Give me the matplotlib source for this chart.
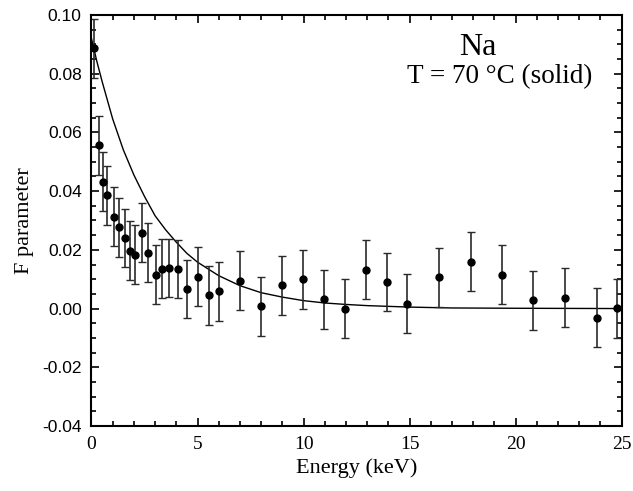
import numpy as np
import matplotlib
matplotlib.use('Agg')
from matplotlib import pyplot as plt
from matplotlib import ticker

plt.rcParams['axes.unicode_minus'] = False

# measured F parameter vs photon energy
energy = [0.12, 0.36, 0.56, 0.75, 1.05, 1.30, 1.57, 1.82, 2.06, 2.38, 2.66,
          3.06, 3.34, 3.67, 4.07, 4.52, 5.02, 5.53, 6.03, 7.02, 8.01,
          8.97, 9.99, 10.97, 11.96, 12.93, 13.92, 14.90, 16.40, 17.89,
          19.35, 20.84, 22.32, 23.83, 24.80]
fparam = [0.0887, 0.0556, 0.0432, 0.0386, 0.0313, 0.0277, 0.0240, 0.0197,
          0.0183, 0.0259, 0.0190, 0.0115, 0.0136, 0.0138, 0.0135, 0.0067,
          0.0109, 0.0045, 0.0059, 0.0095, 0.0008, 0.0079, 0.0099, 0.0031,
          0.0000, 0.0132, 0.0090, 0.0017, 0.0106, 0.0160, 0.0116, 0.0028,
          0.0037, -0.0031, 0.0001]
ferr = [0.010] * len(energy)

# fitted decay curve
fit_energy = [0, 0.25, 0.5, 0.75, 1, 1.5, 2, 2.5, 3, 3.5, 4, 4.5, 5, 6, 7,
              8, 9, 10, 11, 12, 13, 15, 17, 20, 25]
fit_value = [0.0920, 0.0843, 0.0774, 0.0710, 0.0646, 0.0541, 0.0455, 0.0382,
             0.0316, 0.0268, 0.0226, 0.0188, 0.0158, 0.0112, 0.0078, 0.0054,
             0.0039, 0.0027, 0.0019, 0.0014, 0.0010, 0.0005, 0.0002, 0.0001,
             0.0]

fig = plt.figure(figsize=(6.33, 4.91), dpi=100)
ax = fig.add_axes([0.1445, 0.1324, 0.8376, 0.8371])

ax.plot(fit_energy, fit_value, color='black', lw=1.0)
ax.errorbar(energy, fparam, yerr=ferr, fmt='o', color='black', ms=5,
            ecolor='#2a2a2a', elinewidth=1.2, capsize=2.6, capthick=1.0)

ax.set_xlim(0, 25)
ax.set_ylim(-0.04, 0.10)
ax.xaxis.set_major_locator(ticker.MultipleLocator(5))
ax.xaxis.set_minor_locator(ticker.MultipleLocator(1))
ax.yaxis.set_major_locator(ticker.MultipleLocator(0.02))
ax.yaxis.set_minor_locator(ticker.MultipleLocator(0.005))
ax.yaxis.set_major_formatter(ticker.FormatStrFormatter('%.2f'))

ax.tick_params(which='both', direction='in', top=True, right=True, width=1.2)
ax.tick_params(which='major', length=6, pad=7)
ax.tick_params(which='minor', length=3.5)
for lbl in ax.get_xticklabels():
    lbl.set_fontfamily('Liberation Serif')
    lbl.set_fontsize(14)
for lbl in ax.get_yticklabels():
    lbl.set_fontfamily('Liberation Sans')
    lbl.set_fontsize(12.5)
for s in ax.spines.values():
    s.set_linewidth(1.5)

ax.set_xlabel('Energy (keV)', family='Liberation Serif', fontsize=16, labelpad=4)
ax.set_ylabel('F parameter', family='Liberation Serif', fontsize=16, labelpad=6)

ax.text(0.729, 0.922, 'Na', transform=ax.transAxes, ha='center', va='center',
        family='Liberation Serif', fontsize=23)
ax.text(0.769, 0.849, 'T = 70 \u00b0C (solid)', transform=ax.transAxes,
        ha='center', va='center', family='Liberation Serif', fontsize=19.5)

plt.savefig('out.png', dpi=100)
